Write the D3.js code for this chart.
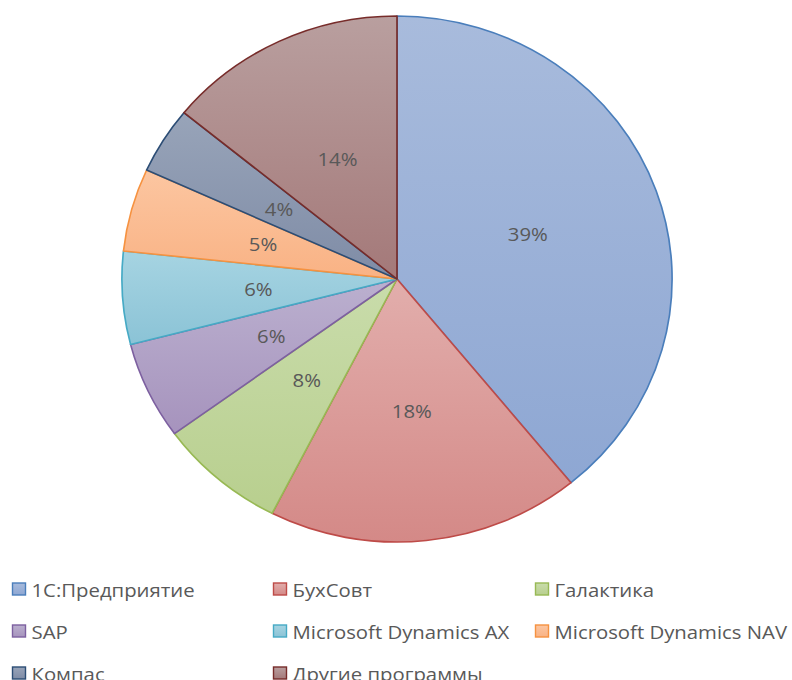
<!DOCTYPE html>
<html>
<head>
<meta charset="utf-8">
<script src="https://cdn.jsdelivr.net/npm/d3@7"></script>
<style>
  body { margin: 0; background: #fff; }
  svg { display: block; font-family: "Open Sans", "Noto Sans", sans-serif; }
</style>
</head>
<body>
<div id="chart"></div>
<script>
// Data (shares; labels as printed)
const categories = ["1С:Предприятие", "БухСовт", "Галактика", "SAP", "Microsoft Dynamics AX",
    "Microsoft Dynamics NAV", "Компас", "Другие программы"];
const shares = [39.1, 18.4, 7.5, 6.0, 5.7, 5.1, 4.1, 14.1];
const percentLabels = ["39%", "18%", "8%", "6%", "6%", "5%", "4%", "14%"];

// Office-style palette: gradient top, gradient bottom, outline
const fillTop = ["#a8bbdc", "#e2aeac", "#c9dcab", "#bbb0cf", "#a6d4e2", "#fcc6a1", "#98a4b9", "#b99f9f"];
const fillBottom = ["#8ea7d3", "#d48987", "#b8cf8e", "#a693bd", "#8bc3d6", "#f9b284", "#7f8ca6", "#a47979"];
const strokes = ["#4a7ebb", "#be4b48", "#98b954", "#7d60a0", "#46aac5", "#f69240", "#2c4d75", "#772c2a"];

const width = 792, height = 680;
const cx = 397, cy = 279;
const radius = 263;
const stretch = 1.046;    // the pie is slightly wider than tall
const textStretch = 1.13; // the original text is rendered wide

const svg = d3.select("#chart").append("svg")
    .attr("width", width)
    .attr("height", height);

const defs = svg.append("defs");
categories.forEach((c, i) => {
    const g = defs.append("linearGradient")
        .attr("id", "grad" + i)
        .attr("x1", 0).attr("y1", 0)
        .attr("x2", 0).attr("y2", 1);
    g.append("stop").attr("offset", "0%").attr("stop-color", fillTop[i]);
    g.append("stop").attr("offset", "100%").attr("stop-color", fillBottom[i]);
});

const pieData = d3.pie().sort(null)(shares);
const arc = d3.arc().innerRadius(0).outerRadius(radius);
const labelArc = d3.arc().innerRadius(radius * 0.505).outerRadius(radius * 0.505);

const pieG = svg.append("g")
    .attr("transform", `translate(${cx},${cy}) scale(${stretch},1)`);

pieG.selectAll("path")
    .data(pieData)
    .join("path")
    .attr("d", arc)
    .attr("fill", (d, i) => `url(#grad${i})`)
    .attr("stroke", (d, i) => strokes[i])
    .attr("stroke-width", 1.6)
    .attr("stroke-linejoin", "round");

// Percent labels
svg.append("g")
    .selectAll("text")
    .data(pieData)
    .join("text")
    .attr("transform", d => {
        const [x, y] = labelArc.centroid(d);
        return `translate(${cx + x * stretch},${cy + y}) scale(${textStretch},1)`;
    })
    .attr("text-anchor", "middle")
    .attr("dominant-baseline", "central")
    .attr("font-size", "18px")
    .attr("fill", "#595959")
    .text((d, i) => percentLabels[i]);

// Legend
const colX = [12, 273, 535];
const rowY = [589.5, 631.5, 673.5];
const legend = svg.append("g");
categories.forEach((c, i) => {
    const x = colX[i % 3];
    const y = rowY[Math.floor(i / 3)];
    legend.append("rect")
        .attr("x", x + 0.5)
        .attr("y", y - 6.5)
        .attr("width", 13)
        .attr("height", 12)
        .attr("fill", `url(#grad${i})`)
        .attr("stroke", strokes[i])
        .attr("stroke-width", 1.4);
    legend.append("text")
        .attr("transform", `translate(${x + 19.5},${y}) scale(${textStretch},1)`)
        .attr("dominant-baseline", "central")
        .attr("font-size", "18px")
        .attr("fill", "#595959")
        .text(c);
});
</script>
</body>
</html>
